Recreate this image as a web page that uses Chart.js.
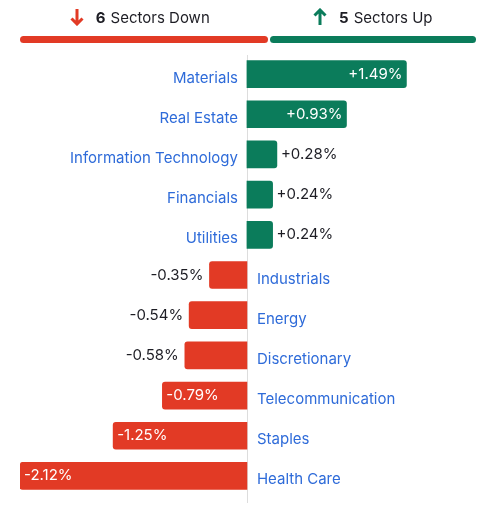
<!DOCTYPE html>
<html>
<head>
<meta charset="utf-8">
<script src="https://cdn.jsdelivr.net/npm/chart.js@4.4.1/dist/chart.umd.min.js"></script>
<style>
    body { margin: 0; background: #fff; font-family: Inter, "Noto Sans", sans-serif; }
    #wrap { position: relative; width: 486px; height: 505px; }
    #chart { position: absolute; left: 0; top: 0; }
    .head { position: absolute; top: 5px; height: 24px; display: flex; align-items: center; justify-content: center;
            font-size: 15px; color: #1d1d24; }
    .head svg { margin-right: 12px; }
    .head b { margin-right: 5px; }
    #bars { position: absolute; left: 20px; top: 36px; width: 456px; height: 7px; display: flex; gap: 2px; }
    #bars div { border-radius: 4px; height: 7px; }
</style>
</head>
<body>
<div id="wrap">
    <canvas id="chart" width="486" height="505"></canvas>
    <div class="head" id="downHead"></div>
    <div class="head" id="upHead"></div>
    <div id="bars"><div id="downBar"></div><div id="upBar"></div></div>
</div>
<script>
const sectors = [
    'Materials', 'Real Estate', 'Information Technology', 'Financials', 'Utilities',
    'Industrials', 'Energy', 'Discretionary', 'Telecommunication', 'Staples', 'Health Care'
];
const changes = [1.49, 0.93, 0.28, 0.24, 0.24, -0.35, -0.54, -0.58, -0.79, -1.25, -2.12];

const UP = '#0b7c5b';
const DOWN = '#e23a25';
const LABEL = '#2e6bd9';
const TEXT = '#1d1d24';
const FONT = '15px Inter, "Noto Sans", sans-serif';

// header summary
const downCount = changes.filter(v => v < 0).length;
const upCount = changes.filter(v => v > 0).length;
const barsLeft = 20, barsWidth = 456;
const downW = (barsWidth - 2) * downCount / (downCount + upCount);

const downArrow = `<svg width="14" height="18" viewBox="0 0 14 18"><path d="M7 1v15M1.5 10.5l5.5 5.5 5.5-5.5" stroke="${DOWN}" stroke-width="3" fill="none"/></svg>`;
const upArrow = `<svg width="14" height="18" viewBox="0 0 14 18"><path d="M7 17V2M1.5 7.5L7 2l5.5 5.5" stroke="${UP}" stroke-width="3" fill="none"/></svg>`;

const downHead = document.getElementById('downHead');
downHead.innerHTML = `${downArrow}<b>${downCount}</b>Sectors Down`;
downHead.style.left = barsLeft + 'px';
downHead.style.width = (downW - 8) + 'px';

const upHead = document.getElementById('upHead');
upHead.innerHTML = `${upArrow}<b>${upCount}</b>Sectors Up`;
upHead.style.left = (barsLeft + downW + 2) + 'px';
upHead.style.width = (barsWidth - downW - 2) + 'px';

document.getElementById('downBar').style.cssText = `flex:${downCount};background:${DOWN}`;
document.getElementById('upBar').style.cssText = `flex:${upCount};background:${UP}`;

const fmt = v => (v > 0 ? '+' : '') + v.toFixed(2) + '%';

const labelsPlugin = {
    id: 'sectorLabels',
    beforeDatasetsDraw(chart) {
        const { ctx } = chart;
        const x0 = Math.round(chart.scales.x.getPixelForValue(0)) + 0.5;
        ctx.save();
        ctx.strokeStyle = '#dddddd';
        ctx.lineWidth = 1;
        ctx.beginPath();
        ctx.moveTo(x0, 55);
        ctx.lineTo(x0, 503);
        ctx.stroke();
        ctx.restore();
    },
    afterDatasetsDraw(chart) {
        const { ctx } = chart;
        const x0 = chart.scales.x.getPixelForValue(0);
        const meta = chart.getDatasetMeta(0);
        ctx.save();
        ctx.font = FONT;
        ctx.textBaseline = 'middle';
        meta.data.forEach((bar, i) => {
            const v = changes[i];
            const y = bar.y;
            const text = fmt(v);
            const tw = ctx.measureText(text).width;
            const barW = Math.abs(bar.x - bar.base);
            const inside = barW > tw + 20;

            // sector name on the opposite side of the axis
            ctx.fillStyle = LABEL;
            if (v >= 0) {
                ctx.textAlign = 'right';
                ctx.fillText(sectors[i], x0 - 9, y + 4);
            } else {
                ctx.textAlign = 'left';
                ctx.fillText(sectors[i], x0 + 10, y + 4);
            }

            // value
            ctx.fillStyle = inside ? '#ffffff' : TEXT;
            if (v >= 0) {
                ctx.textAlign = inside ? 'right' : 'left';
                ctx.fillText(text, inside ? bar.x - 4 : bar.x + 4, y);
            } else {
                ctx.textAlign = inside ? 'left' : 'right';
                ctx.fillText(text, inside ? bar.x + 4 : bar.x - 6, y);
            }
        });
        ctx.restore();
    }
};

new Chart(document.getElementById('chart'), {
    type: 'bar',
    data: {
        labels: sectors,
        datasets: [{
            data: changes,
            backgroundColor: changes.map(v => v >= 0 ? UP : DOWN),
            borderRadius: 3,
            borderSkipped: 'start',
            barThickness: 27
        }]
    },
    options: {
        indexAxis: 'y',
        responsive: false,
        animation: false,
        layout: { padding: { left: 20, right: 10, top: 54, bottom: 9 } },
        scales: {
            x: { display: false, min: -2.12, max: 2.14 },
            y: { display: false }
        },
        plugins: {
            legend: { display: false },
            tooltip: { enabled: false }
        }
    },
    plugins: [labelsPlugin]
});
</script>
</body>
</html>
